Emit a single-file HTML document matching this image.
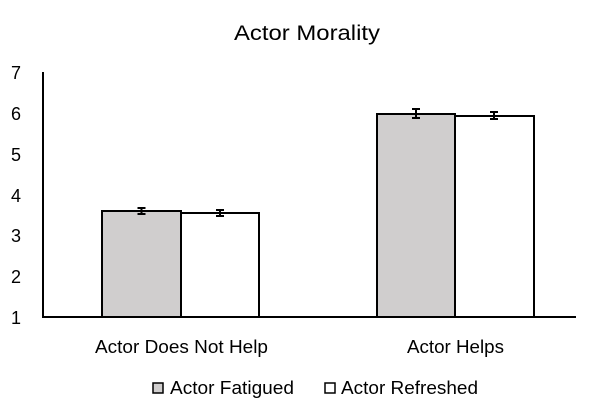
<!DOCTYPE html>
<html><head><style>html,body{margin:0;padding:0;background:#fff}svg{display:block}</style></head>
<body>
<svg width="614" height="418" xmlns="http://www.w3.org/2000/svg" font-family="Liberation Sans, sans-serif" fill="#000">
<rect width="614" height="418" fill="#fff"/>
<text x="307" y="40" font-size="21" text-anchor="middle" textLength="146" lengthAdjust="spacingAndGlyphs">Actor Morality</text>
<g font-size="18" text-anchor="middle">
<text x="16" y="79">7</text>
<text x="16" y="120">6</text>
<text x="16" y="161">5</text>
<text x="16" y="202">4</text>
<text x="16" y="242">3</text>
<text x="16" y="283">2</text>
<text x="16" y="324">1</text>
</g>
<g stroke="#000" stroke-width="2">
<rect x="102" y="211" width="79" height="106" fill="#d0cece"/>
<rect x="181" y="213" width="78" height="104" fill="#fff"/>
<rect x="377" y="114" width="78" height="203" fill="#d0cece"/>
<rect x="455" y="116" width="79" height="201" fill="#fff"/>
<line x1="43" y1="72" x2="43" y2="317"/>
<line x1="42" y1="317" x2="576" y2="317"/>
<path d="M141.5 208v6M137.5 208h8M137.5 214h8 M220 210v6M216 210h8M216 216h8 M416 109v9M412 109h8M412 118h8 M494 112v7M490 112h8M490 119h8" fill="none"/>
</g>
<g font-size="18">
<text x="95" y="353" textLength="173" lengthAdjust="spacingAndGlyphs">Actor Does Not Help</text>
<text x="407" y="353" textLength="97" lengthAdjust="spacingAndGlyphs">Actor Helps</text>
<rect x="153" y="383" width="10" height="10" fill="#d0cece" stroke="#000" stroke-width="1.5"/>
<text x="170" y="394" textLength="124" lengthAdjust="spacingAndGlyphs">Actor Fatigued</text>
<rect x="325" y="383" width="10" height="10" fill="#fff" stroke="#000" stroke-width="1.5"/>
<text x="341" y="394" textLength="137" lengthAdjust="spacingAndGlyphs">Actor Refreshed</text>
</g>
</svg>
</body></html>
